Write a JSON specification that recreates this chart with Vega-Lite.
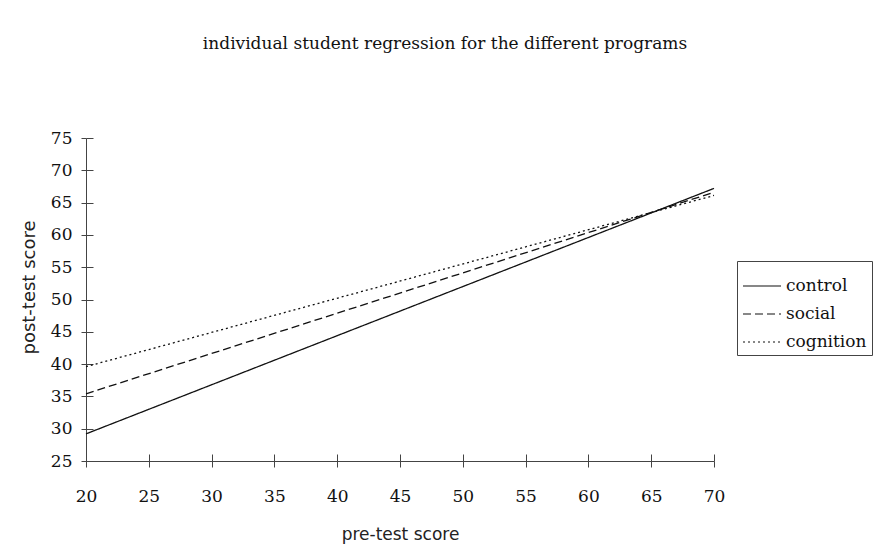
{
  "$schema": "https://vega.github.io/schema/vega-lite/v6.json",
  "autosize": {"type": "none"},
  "width": 628,
  "height": 323,
  "padding": {"left": 86, "top": 138, "right": 161, "bottom": 99},
  "background": "white",
  "title": {
    "text": "individual student regression for the different programs",
    "font": "DejaVu Serif",
    "fontSize": 17,
    "fontWeight": "normal",
    "color": "#111",
    "anchor": "middle",
    "dx": 45,
    "offset": 76
  },
  "data": {
    "values": [
      {"program": "control", "pre": 20, "post": 29.2},
      {"program": "control", "pre": 70, "post": 67.2},
      {"program": "social", "pre": 20, "post": 35.4},
      {"program": "social", "pre": 70, "post": 66.6},
      {"program": "cognition", "pre": 20, "post": 39.6},
      {"program": "cognition", "pre": 70, "post": 66.1}
    ]
  },
  "layer": [
    {
      "mark": {"type": "line", "color": "#111", "strokeWidth": 1.3},
      "encoding": {
        "x": {
          "field": "pre", "type": "quantitative",
          "scale": {"domain": [20, 70], "nice": false, "zero": false},
          "axis": {
            "title": "pre-test score",
            "values": [20, 25, 30, 35, 40, 45, 50, 55, 60, 65, 70],
            "grid": false,
            "labelFlush": false,
            "tickSize": 6,
            "labelPadding": 21,
            "titlePadding": 22,
            "domainColor": "#444",
            "tickColor": "#444",
            "labelFont": "DejaVu Serif",
            "labelFontSize": 17,
            "labelColor": "#111",
            "titleFont": "DejaVu Sans",
            "titleFontSize": 17,
            "titleFontWeight": "normal",
            "titleColor": "#222"
          }
        },
        "y": {
          "field": "post", "type": "quantitative",
          "scale": {"domain": [25, 75], "nice": false, "zero": false},
          "axis": {
            "title": "post-test score",
            "titleY": 149,
            "values": [25, 30, 35, 40, 45, 50, 55, 60, 65, 70, 75],
            "grid": false,
            "labelFlush": false,
            "tickSize": 5,
            "labelPadding": 9,
            "titlePadding": 12,
            "domainColor": "#444",
            "tickColor": "#444",
            "labelFont": "DejaVu Serif",
            "labelFontSize": 17,
            "labelColor": "#111",
            "titleFont": "DejaVu Sans",
            "titleFontSize": 18,
            "titleFontWeight": "normal",
            "titleColor": "#222"
          }
        },
        "detail": {"field": "program"},
        "strokeDash": {
          "field": "program", "type": "nominal",
          "scale": {
            "domain": ["control", "social", "cognition"],
            "range": [[1, 0], [8, 4], [2, 3]]
          },
          "legend": {
            "title": null,
            "orient": "none",
            "legendX": 651,
            "legendY": 123,
            "strokeColor": "#444",
            "padding": 5,
            "rowPadding": -7,
            "symbolType": "stroke",
            "symbolSize": 1444,
            "symbolStrokeWidth": 1.2,
            "symbolStrokeColor": "#111",
            "labelFont": "DejaVu Serif",
            "labelFontSize": 17,
            "labelColor": "#111",
            "labelOffset": 4
          }
        }
      }
    },
    {
      "mark": {"type": "line", "opacity": 0},
      "encoding": {
        "x": {
          "field": "pre", "type": "quantitative",
          "axis": {"title": null, "labels": false, "domain": false, "grid": false, "tickSize": -7, "tickColor": "#444", "orient": "bottom",
            "values": [20, 25, 30, 35, 40, 45, 50, 55, 60, 65, 70]}
        },
        "y": {
          "field": "post", "type": "quantitative",
          "axis": {"title": null, "labels": false, "domain": false, "grid": false, "tickSize": -7, "tickColor": "#444", "orient": "left",
            "values": [25, 30, 35, 40, 45, 50, 55, 60, 65, 70, 75]}
        },
        "detail": {"field": "program"}
      }
    }
  ],
  "resolve": {"axis": {"x": "independent", "y": "independent"}},
  "config": {"view": {"stroke": null}}
}
